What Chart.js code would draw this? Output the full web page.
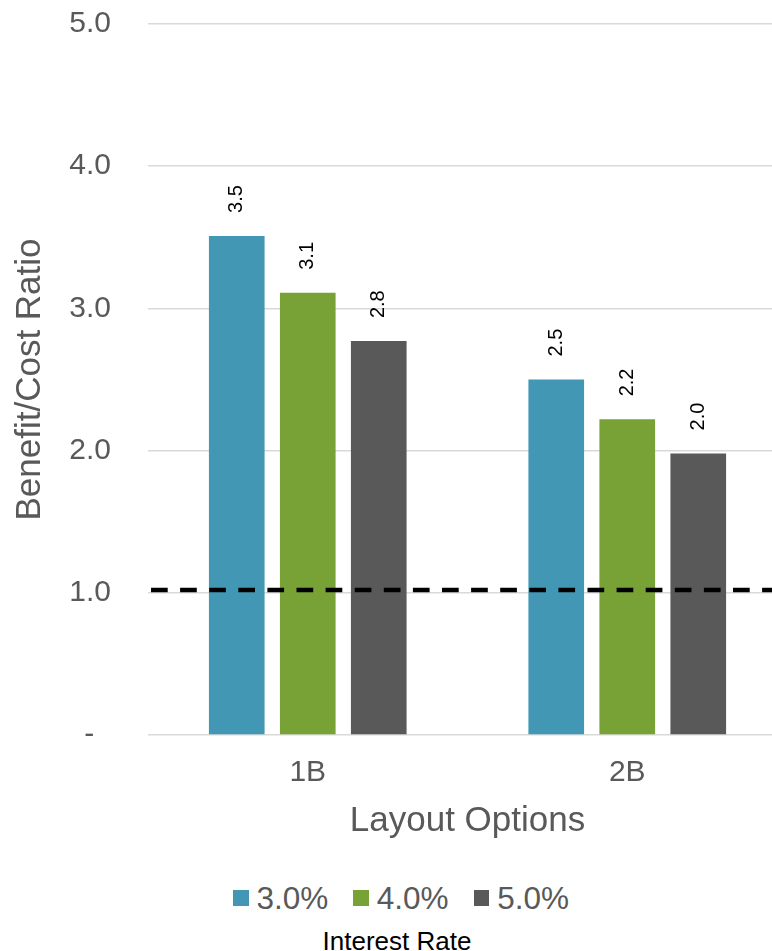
<!DOCTYPE html>
<html>
<head>
<meta charset="utf-8">
<script src="https://cdn.jsdelivr.net/npm/chart.js@4.4.1/dist/chart.umd.min.js"></script>
<style>
  body { margin: 0; background: #fff; overflow: hidden; font-family: "Liberation Sans", Arial, sans-serif; }
  .wrap { position: relative; width: 787px; height: 951px; }
  .legend { position: absolute; left: 233px; top: 882px; display: flex; align-items: center; color: #595959; font-size: 31.5px; line-height: 32px; }
  .legend__item { display: flex; align-items: center; margin-right: 25px; }
  .legend__box { width: 15.5px; height: 15.5px; margin-right: 8px; }
  .legend__title { position: absolute; left: 297px; width: 200px; top: 926px; text-align: center; font-size: 26px; line-height: 30px; color: #000; }
</style>
</head>
<body>
<div class="wrap">
  <canvas id="myChart" width="787" height="846"></canvas>
  <div class="legend"></div>
  <div class="legend__title">Interest Rate</div>
</div>
<script>
const categories = ['1B', '2B']
const rateLabels = ['3.0%', '4.0%', '5.0%']
const rate3 = [3.51, 2.50]
const rate4 = [3.11, 2.22]
const rate5 = [2.77, 1.98]
const breakEven = 1.02
const colors = ['#4298b4', '#78a136', '#595959']

const font = '"Liberation Sans", Arial, sans-serif'

// value labels above the bars, rotated
const barLabels = {
  id: 'barLabels',
  afterDatasetsDraw(chart) {
    const ctx = chart.ctx
    ctx.save()
    ctx.font = `20px ${font}`
    ctx.fillStyle = '#000'
    ctx.textAlign = 'left'
    ctx.textBaseline = 'middle'
    chart.data.datasets.forEach((ds, i) => {
      chart.getDatasetMeta(i).data.forEach((bar, j) => {
        ctx.save()
        ctx.translate(bar.x, bar.y - 23)
        ctx.rotate(-Math.PI / 2)
        ctx.fillText(ds.data[j].toFixed(1), 0, 0)
        ctx.restore()
      })
    })
    ctx.restore()
  }
}

// dashed break-even line
const breakEvenLine = {
  id: 'breakEvenLine',
  afterDatasetsDraw(chart) {
    const {ctx, chartArea, scales} = chart
    const y = scales.y.getPixelForValue(breakEven)
    ctx.save()
    ctx.strokeStyle = '#000'
    ctx.lineWidth = 4.5
    ctx.setLineDash([16.7, 12.4])
    ctx.beginPath()
    ctx.moveTo(chartArea.left + 3, y)
    ctx.lineTo(chartArea.right, y)
    ctx.stroke()
    ctx.restore()
  }
}

const series = [rate3, rate4, rate5]

const chart = new Chart(document.getElementById('myChart').getContext('2d'), {
  type: 'bar',
  data: {
    labels: categories,
    datasets: series.map((data, i) => ({
      label: rateLabels[i],
      data: data,
      backgroundColor: colors[i],
      categoryPercentage: 0.6667,
      barPercentage: 0.784,
    }))
  },
  options: {
    responsive: false,
    animation: false,
    devicePixelRatio: 1,
    layout: { padding: { top: 24, right: 0, bottom: 0, left: 0 } },
    scales: {
      x: {
        grid: { display: false, drawTicks: false },
        border: { display: false },
        ticks: { padding: 20, color: '#595959', font: { family: font, size: 30 } },
        title: {
          display: true, text: 'Layout Options', color: '#595959',
          font: { family: font, size: 35 }, padding: { top: 0, bottom: 4 }
        },
        afterFit(scale) {
          scale.height = 111
          scale.paddingLeft = 0
          scale.paddingRight = 0
        }
      },
      y: {
        min: 0,
        max: 5,
        grid: { color: '#d9d9d9', lineWidth: 1.5, drawTicks: false },
        border: { display: false },
        ticks: {
          stepSize: 1,
          padding: 37,
          color: '#595959',
          font: { family: font, size: 30 },
          callback: (v) => v === 0 ? '-  ' : v.toFixed(1)
        },
        title: {
          display: true, text: 'Benefit/Cost Ratio', color: '#595959',
          font: { family: font, size: 35 }, padding: { top: 9, bottom: 0 }
        },
        afterFit(scale) {
          scale.width = 148
          scale.paddingTop = 0
          scale.paddingBottom = 0
        }
      }
    },
    plugins: {
      legend: { display: false },
      tooltip: { enabled: false }
    }
  },
  plugins: [barLabels, breakEvenLine]
})

// legend in html
const legend = document.querySelector('.legend')
chart.data.datasets.forEach(ds => {
  const item = document.createElement('div')
  item.className = 'legend__item'
  const box = document.createElement('span')
  box.className = 'legend__box'
  box.style.background = ds.backgroundColor
  const text = document.createElement('span')
  text.textContent = ds.label
  item.append(box, text)
  legend.append(item)
})
</script>
</body>
</html>
